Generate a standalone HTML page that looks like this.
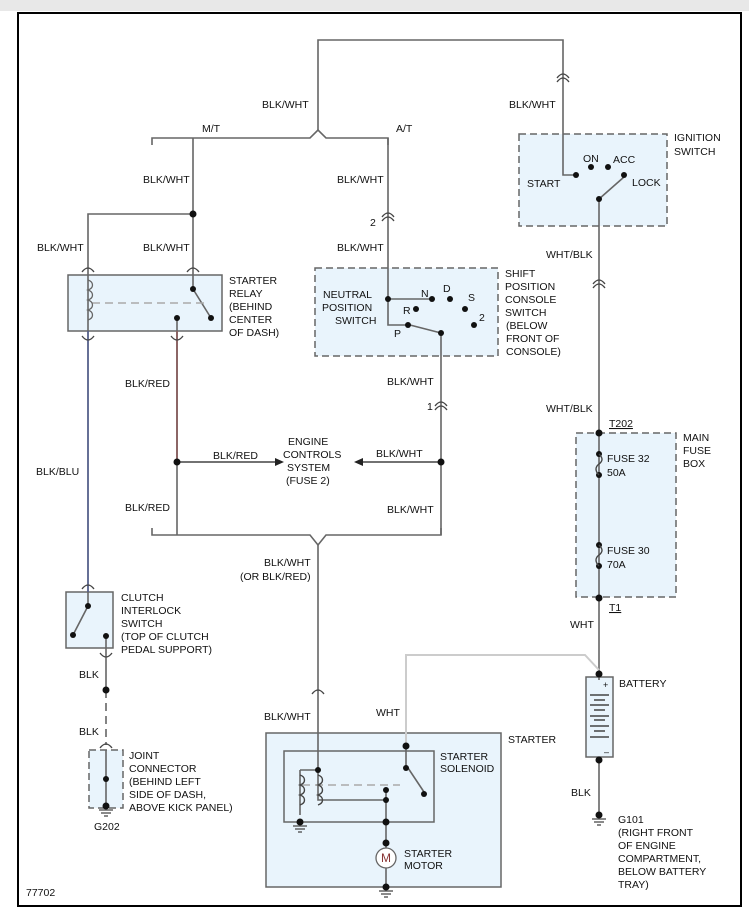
<!DOCTYPE html>
<html><head><meta charset="utf-8"><style>
html,body{margin:0;padding:0;background:#fff}
svg{display:block}
text{font-family:"Liberation Sans",Arial,sans-serif;font-size:10.5px;fill:#111}
</style></head><body>
<svg width="749" height="910" viewBox="0 0 749 910" xmlns="http://www.w3.org/2000/svg">
<rect x="0" y="0" width="749" height="11" fill="#e8e8e8"/>
<rect x="18" y="13" width="723" height="893" fill="#fff" stroke="#000" stroke-width="2"/>
<g fill="#e9f4fc" stroke="#666" stroke-width="1.5">
<rect x="519" y="134" width="148" height="92" stroke-dasharray="7,4"/>
<rect x="315" y="268" width="183" height="88" stroke-dasharray="7,4"/>
<rect x="68" y="275" width="154" height="56"/>
<rect x="576" y="433" width="100" height="164" stroke-dasharray="7,4"/>
<rect x="66" y="592" width="47" height="56"/>
<rect x="89" y="750" width="34" height="58" stroke-dasharray="7,4"/>
<rect x="266" y="733" width="235" height="154"/>
<rect x="284" y="751" width="150" height="71"/>
<rect x="586" y="677" width="27" height="80"/>
</g>
<g fill="none" stroke="#666" stroke-width="1.6">
<!-- top -->
<path d="M318 130 V40 H563 V175 H576"/>
<path d="M152 145 V138 H310 L318 130 L326 138 H388 V145"/>
<path d="M193 138 V275 M193 214 H88 V275"/>
<path d="M388 138 V299 H432 M388 299 V325 H408"/>
<path d="M441 333 V535"/>
<path d="M599 199 V680 M599 757 V815"/>
<path d="M177 318 V535"/>
<path d="M152 528 V535 H310 L318 545 L326 535 H441 V528"/>
<path d="M318 545 V745"/>
<path d="M106 648 V690"/>
<path d="M106 690 V745" stroke-dasharray="8,5"/>
<path d="M106 750 V806"/>
<!-- relay internals -->
<path d="M88 275 V331 M193 275 V289 L211 318"/>
<path d="M92 303 H205" stroke="#aaa" stroke-dasharray="8,5"/>
<path d="M88 280 c6 2 6 8 0 10 c6 2 6 8 0 10 c6 2 6 8 0 10 c6 2 6 8 0 10" stroke-width="1.3"/>
<!-- switch arms -->
<path d="M599 199 L624 177"/>
<path d="M441 333 L410 325"/>
<path d="M88 592 V606 L73 635"/>
<path d="M106 636 V648"/>
<!-- solenoid -->
<path d="M318 745 V770 M300 770 H318 M300 770 V815 M318 770 V800 H386 V855 M386 790 V800 M406 745 V765 L424 792"/>
<path d="M302 785 H400" stroke="#aaa" stroke-dasharray="8,5"/>
<path d="M386 865 V890"/>
</g>
<path d="M406 745 V655 H585 L599 670" fill="none" stroke="#ccc" stroke-width="2"/>
<path d="M88 331 V592" stroke="#55608a" stroke-width="1.8"/>
<path d="M177 331 V460" stroke="#8a6060" stroke-width="1.8"/>
<!-- arrows -->
<path d="M177 462 H276" stroke="#444" stroke-width="1.6"/><path d="M284 462 l-9 -4 v8z" fill="#222"/>
<path d="M441 462 H362" stroke="#444" stroke-width="1.6"/><path d="M354 462 l9 -4 v8z" fill="#222"/>
<!-- connectors -->
<g fill="none" stroke="#444" stroke-width="1.3">
<path d="M557 78 q6 -8 12 0 M557 82 q6 -8 12 0"/>
<path d="M593 284 q6 -8 12 0 M593 288 q6 -8 12 0"/>
<path d="M382 217 q6 -8 12 0 M382 221 q6 -8 12 0"/>
<path d="M435 406 q6 -8 12 0 M435 410 q6 -8 12 0"/>
<path d="M82 272 q6 -8 12 0 M187 272 q6 -8 12 0"/>
<path d="M82 336 q6 8 12 0 M171 336 q6 8 12 0"/>
<path d="M82 589 q6 -8 12 0 M100 653 q6 8 12 0"/>
<path d="M100 748 q6 -8 12 0 M312 694 q6 -8 12 0"/>
</g>
<!-- dots -->
<g fill="#111">
<circle cx="193" cy="214" r="3.5"/><circle cx="193" cy="289" r="3"/><circle cx="211" cy="318" r="3"/><circle cx="177" cy="318" r="3"/>
<circle cx="177" cy="462" r="3.5"/><circle cx="441" cy="462" r="3.5"/>
<circle cx="576" cy="175" r="3"/><circle cx="591" cy="167" r="3"/><circle cx="608" cy="167" r="3"/><circle cx="624" cy="175" r="3"/><circle cx="599" cy="199" r="3"/>
<circle cx="388" cy="299" r="3"/><circle cx="432" cy="299" r="3"/><circle cx="450" cy="299" r="3"/><circle cx="416" cy="309" r="3"/><circle cx="465" cy="309" r="3"/><circle cx="474" cy="325" r="3"/><circle cx="408" cy="325" r="3"/><circle cx="441" cy="333" r="3"/>
<circle cx="599" cy="433" r="3.5"/><circle cx="599" cy="454" r="3"/><circle cx="599" cy="475" r="3"/><circle cx="599" cy="545" r="3"/><circle cx="599" cy="566" r="3"/><circle cx="599" cy="598" r="3.5"/>
<circle cx="599" cy="674" r="3.5"/><circle cx="599" cy="760" r="3.5"/><circle cx="599" cy="815" r="3.5"/>
<circle cx="88" cy="606" r="3"/><circle cx="73" cy="635" r="3"/><circle cx="106" cy="636" r="3"/>
<circle cx="106" cy="690" r="3.5"/><circle cx="106" cy="779" r="3"/><circle cx="106" cy="806" r="3.5"/>
<circle cx="406" cy="746" r="3.5"/><circle cx="406" cy="768" r="3"/><circle cx="424" cy="794" r="3"/><circle cx="318" cy="770" r="3"/>
<circle cx="386" cy="790" r="3"/><circle cx="386" cy="800" r="3"/><circle cx="386" cy="822" r="3.5"/><circle cx="386" cy="843" r="3.5"/><circle cx="386" cy="887" r="3.5"/><circle cx="300" cy="822" r="3.5"/>
</g>
<!-- fuses, battery, motor -->
<g fill="none" stroke="#444" stroke-width="1.4">
<path d="M599 454 c4 4 4 7 0 10 c-4 3 -4 7 0 11 M599 545 c4 4 4 7 0 10 c-4 3 -4 7 0 11"/>
<path d="M300 775 c6 2 6 8 0 10 c6 2 6 8 0 10 c6 2 6 8 0 10 M318 775 c6 2 6 8 0 10 c6 2 6 8 0 10 c6 2 6 8 0 10"/>
<path d="M590 695 H609 M594 700 H605 M590 705 H609 M594 710 H605 M590 716 H609 M594 720 H605 M590 726 H609 M594 731 H605 M590 737 H609"/>
</g>
<circle cx="386" cy="858" r="10" fill="#fff" stroke="#666" stroke-width="1.3"/>
<text x="381" y="862" style="font-size:12px;fill:#833">M</text>
<g stroke="#444" stroke-width="1.2"><path d="M293 826 H307 M295 829 H305 M298 832 H302 M379 891 H393 M381 894 H391 M384 897 H388 M99 810 H113 M101 813 H111 M104 816 H108 M592 819 H606 M594 822 H604 M597 825 H601"/></g>
<text x="603" y="688" style="font-size:9px">+</text><text x="604" y="755" style="font-size:9px">–</text>
<!-- labels -->
<text x="262" y="108">BLK/WHT</text>
<text x="202" y="132">M/T</text><text x="396" y="132">A/T</text>
<text x="509" y="108">BLK/WHT</text>
<text x="674" y="141">IGNITION</text><text x="674" y="155">SWITCH</text>
<text x="527" y="187">START</text><text x="583" y="162">ON</text><text x="613" y="163">ACC</text><text x="632" y="186">LOCK</text>
<text x="143" y="183">BLK/WHT</text><text x="337" y="183">BLK/WHT</text>
<text x="370" y="226">2</text>
<text x="37" y="251">BLK/WHT</text><text x="143" y="251">BLK/WHT</text><text x="337" y="251">BLK/WHT</text>
<text x="546" y="258">WHT/BLK</text>
<text x="229" y="284">STARTER</text><text x="229" y="297">RELAY</text><text x="229" y="310">(BEHIND</text><text x="229" y="323">CENTER</text><text x="229" y="336">OF DASH)</text>
<text x="505" y="277">SHIFT</text><text x="505" y="290">POSITION</text><text x="505" y="303">CONSOLE</text><text x="505" y="316">SWITCH</text><text x="506" y="329">(BELOW</text><text x="506" y="342">FRONT OF</text><text x="506" y="355">CONSOLE)</text>
<text x="323" y="298">NEUTRAL</text><text x="322" y="311">POSITION</text><text x="335" y="324">SWITCH</text>
<text x="421" y="297">N</text><text x="443" y="292">D</text><text x="468" y="301">S</text><text x="479" y="321">2</text><text x="403" y="314">R</text><text x="394" y="337">P</text>
<text x="125" y="387">BLK/RED</text><text x="387" y="385">BLK/WHT</text><text x="427" y="410">1</text>
<text x="546" y="412">WHT/BLK</text><text x="609" y="427" text-decoration="underline">T202</text>
<text x="683" y="441">MAIN</text><text x="683" y="454">FUSE</text><text x="683" y="467">BOX</text>
<text x="607" y="462">FUSE 32</text><text x="607" y="476">50A</text><text x="607" y="554">FUSE 30</text><text x="607" y="568">70A</text>
<text x="609" y="611" text-decoration="underline">T1</text>
<text x="288" y="445">ENGINE</text><text x="283" y="458">CONTROLS</text><text x="287" y="471">SYSTEM</text><text x="286" y="484">(FUSE 2)</text>
<text x="213" y="459">BLK/RED</text><text x="376" y="457">BLK/WHT</text>
<text x="36" y="475">BLK/BLU</text>
<text x="125" y="511">BLK/RED</text><text x="387" y="513">BLK/WHT</text>
<text x="264" y="566">BLK/WHT</text><text x="240" y="580">(OR BLK/RED)</text>
<text x="121" y="601">CLUTCH</text><text x="121" y="614">INTERLOCK</text><text x="121" y="627">SWITCH</text><text x="121" y="640">(TOP OF CLUTCH</text><text x="121" y="653">PEDAL SUPPORT)</text>
<text x="570" y="628">WHT</text>
<text x="79" y="678">BLK</text><text x="79" y="735">BLK</text>
<text x="619" y="687">BATTERY</text>
<text x="376" y="716">WHT</text><text x="264" y="720">BLK/WHT</text>
<text x="508" y="743">STARTER</text>
<text x="440" y="760">STARTER</text><text x="440" y="772">SOLENOID</text>
<text x="129" y="759">JOINT</text><text x="129" y="772">CONNECTOR</text><text x="129" y="785">(BEHIND LEFT</text><text x="129" y="798">SIDE OF DASH,</text><text x="129" y="811">ABOVE KICK PANEL)</text>
<text x="571" y="796">BLK</text>
<text x="618" y="823">G101</text><text x="618" y="836">(RIGHT FRONT</text><text x="618" y="849">OF ENGINE</text><text x="618" y="862">COMPARTMENT,</text><text x="618" y="875">BELOW BATTERY</text><text x="618" y="888">TRAY)</text>
<text x="94" y="830">G202</text>
<text x="404" y="857">STARTER</text><text x="404" y="869">MOTOR</text>
<text x="26" y="896">77702</text>
</svg>
</body></html>
